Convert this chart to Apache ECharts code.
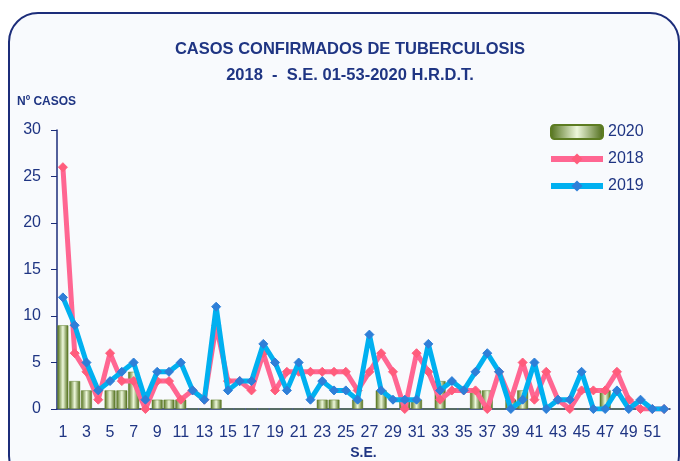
<!DOCTYPE html>
<html>
<head>
<meta charset="utf-8">
<script src="https://cdn.jsdelivr.net/npm/echarts@6/dist/echarts.min.js"></script>
<style>
  html, body { margin: 0; padding: 0; background: #ffffff; overflow: hidden; }
  #frame {
    position: absolute; left: 8px; top: 12px; width: 668px; height: 470px;
    border: 2px solid #1c2d7a; border-radius: 30px; background: #f8fafd;
  }
  #chart { position: absolute; left: 0; top: 0; width: 680px; height: 461px; }
</style>
</head>
<body>
<div id="frame"></div>
<div id="chart"></div>
<script>
  // semanas epidemiologicas 1..52
  var weeks = [];
  for (var i = 1; i <= 52; i++) weeks.push(String(i));

  var casos2020 = [9,3,2,0,2,2,4,0,1,1,1,0,0,1,0,0,0,0,0,0,0,0,1,1,0,1,0,2,0,1,1,0,3,0,0,2,2,0,1,2,0,0,0,0,0,0,2,0,0,0,0,0];
  var casos2018 = [26,6,4,1,6,3,3,0,3,3,1,2,1,9,3,3,2,6,2,4,4,4,4,4,4,2,4,6,4,0,6,4,1,2,2,2,0,4,1,5,1,4,1,0,2,2,2,4,1,0,0,0];
  var casos2019 = [12,9,5,2,3,4,5,1,4,4,5,2,1,11,2,3,3,7,5,2,5,1,3,2,2,1,8,2,1,1,1,7,2,3,2,4,6,4,0,1,5,0,1,1,4,0,0,2,0,1,0,0];

  var navy = '#1c2d7a';
  var txt = '#1f3583';

  var myChart = echarts.init(document.getElementById('chart'));
  myChart.setOption({
    backgroundColor: 'transparent',
    title: {
      text: 'CASOS CONFIRMADOS DE TUBERCULOSIS\n2018  -  S.E. 01-53-2020 H.R.D.T.',
      left: 345,
      top: 31,
      textAlign: 'center',
      textStyle: {
        color: txt,
        fontFamily: 'Liberation Sans',
        fontWeight: 'bold',
        fontSize: 16.5,
        lineHeight: 26
      }
    },
    legend: {
      orient: 'vertical',
      left: 543,
      top: 119,
      itemGap: 11,
      itemWidth: 52,
      itemHeight: 14,
      data: [
        { name: '2020' },
        { name: '2018', lineStyle: { width: 6 } },
        { name: '2019', lineStyle: { width: 6 } }
      ],
      textStyle: { color: txt, fontSize: 16, fontFamily: 'Liberation Sans' }
    },
    grid: { left: 57, right: 10, top: 130, bottom: 52, outerBoundsMode: 'none' },
    xAxis: {
      type: 'category',
      data: weeks,
      name: 'S.E.',
      nameLocation: 'middle',
      nameGap: 37,
      nameTextStyle: { color: txt, fontWeight: 'bold', fontSize: 14, fontFamily: 'Liberation Sans' },
      axisLine: { lineStyle: { color: navy, width: 1.5 } },
      axisTick: { lineStyle: { color: navy }, length: 6, interval: 0 },
      axisLabel: { color: txt, fontSize: 16, interval: 1, margin: 16, fontFamily: 'Liberation Sans' }
    },
    yAxis: {
      type: 'value',
      min: 0,
      max: 30,
      interval: 5,
      name: 'Nº CASOS',
      nameLocation: 'end',
      nameGap: 22,
      nameTextStyle: { color: txt, fontWeight: 'bold', fontSize: 12, align: 'left', padding: [0, 0, 0, -40], fontFamily: 'Liberation Sans' },
      splitLine: { show: false },
      axisLine: { show: true, lineStyle: { color: navy, width: 1.5 } },
      axisTick: { show: true, lineStyle: { color: navy }, length: 6 },
      axisLabel: { color: txt, fontSize: 16, margin: 16, fontFamily: 'Liberation Sans' }
    },
    series: [
      {
        name: '2020',
        type: 'bar',
        data: casos2020,
        barWidth: '92%',
        z: 1,
        itemStyle: {
          color: new echarts.graphic.LinearGradient(0, 0, 1, 0, [
            { offset: 0, color: '#4f6e18' },
            { offset: 0.5, color: '#eef8dc' },
            { offset: 1, color: '#4a6814' }
          ]),
          borderColor: '#5d7c22',
          borderWidth: 0.5
        }
      },
      {
        name: '2018',
        type: 'line',
        data: casos2018,
        z: 3,
        symbol: 'diamond',
        symbolSize: 9,
        showAllSymbol: true,
        lineStyle: { color: '#ff6692', width: 5 },
        itemStyle: { color: '#ff5c7c', borderColor: '#ff5c7c' }
      },
      {
        name: '2019',
        type: 'line',
        data: casos2019,
        z: 4,
        symbol: 'diamond',
        symbolSize: 9,
        showAllSymbol: true,
        lineStyle: { color: '#00b0f0', width: 5 },
        itemStyle: { color: '#2e7fd8', borderColor: '#2e7fd8' }
      }
    ]
  });
</script>
</body>
</html>
